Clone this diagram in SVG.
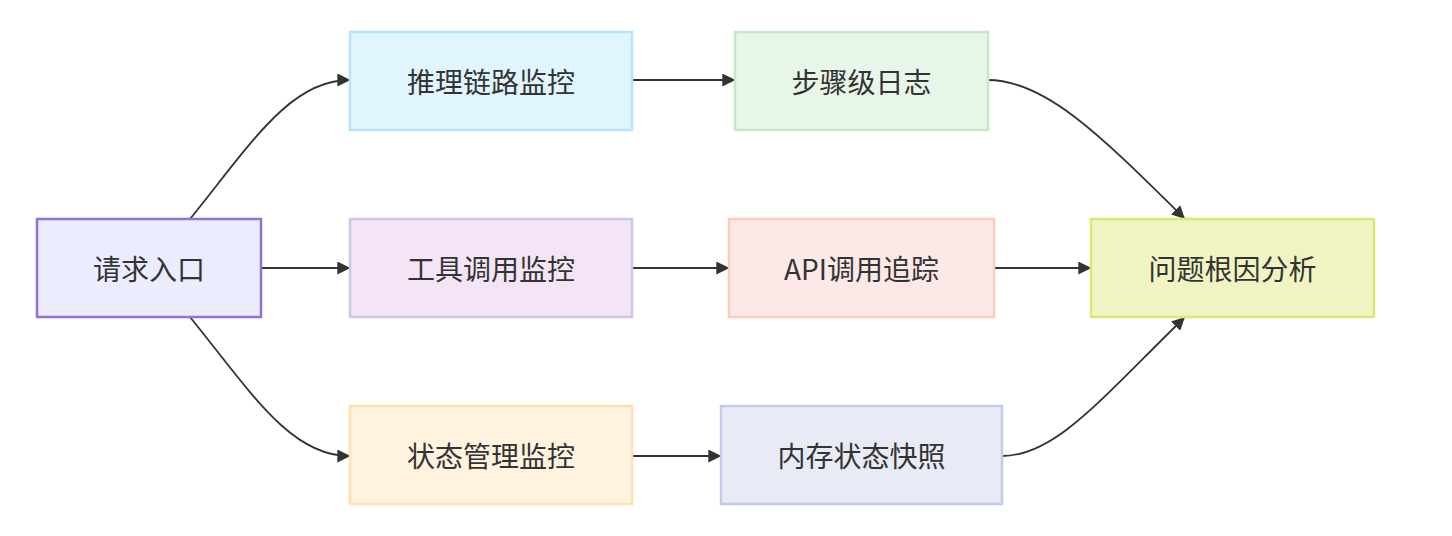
<svg xmlns="http://www.w3.org/2000/svg" width="1452" height="536" viewBox="0 0 1452 536">
<style>
.n rect{stroke-width:2.5}
.n text{font-family:"Noto Sans CJK SC","Noto Sans",sans-serif;font-size:28px;fill:#333;text-anchor:middle;dominant-baseline:central}
.e path{fill:none;stroke:#333;stroke-width:1.8;marker-end:url(#ah)}
</style>
<defs>
<marker id="ah" viewBox="0 0 10 10" refX="9" refY="5" markerWidth="13" markerHeight="13" markerUnits="userSpaceOnUse" orient="auto">
<path d="M0,0 L10,5 L0,10 z" fill="#333"/>
</marker>
</defs>
<rect width="1452" height="536" fill="#fff"/>
<g class="e">
<path d="M190,219 C250,145 290,80 349,80"/>
<path d="M261,268 L349,268"/>
<path d="M190,317 C250,391 290,456 349,456"/>
<path d="M632,80 L734,80"/>
<path d="M632,268 L728,268"/>
<path d="M632,456 L720,456"/>
<path d="M988,80 C1045,80 1100,135 1184,218"/>
<path d="M994,268 L1090,268"/>
<path d="M1002,456 C1055,456 1100,400 1184,318"/>
</g>
<g id="n1" class="n"><rect x="37" y="219" width="224" height="98" fill="#ECECFF" stroke="#9370DB"/><text x="149" y="268">请求入口</text></g>
<g id="n2" class="n"><rect x="350" y="32" width="282" height="98" fill="#E1F5FE" stroke="#B3E5FC"/><text x="491" y="81">推理链路监控</text></g>
<g id="n3" class="n"><rect x="350" y="219" width="282" height="98" fill="#F3E5F5" stroke="#D1C4E9"/><text x="491" y="268">工具调用监控</text></g>
<g id="n4" class="n"><rect x="350" y="406" width="282" height="98" fill="#FFF3E0" stroke="#FFE0B2"/><text x="491" y="455">状态管理监控</text></g>
<g id="n5" class="n"><rect x="735" y="32" width="253" height="98" fill="#E8F5E9" stroke="#C8E6C9"/><text x="861.5" y="81">步骤级日志</text></g>
<g id="n6" class="n"><rect x="729" y="219" width="265" height="98" fill="#FCE8E6" stroke="#FFCCBC"/><text x="861.5" y="268">API调用追踪</text></g>
<g id="n7" class="n"><rect x="721" y="406" width="281" height="98" fill="#E8EAF6" stroke="#C5CAE9"/><text x="861.5" y="455">内存状态快照</text></g>
<g id="n8" class="n"><rect x="1091" y="219" width="283" height="98" fill="#F0F4C3" stroke="#DCE775"/><text x="1232.5" y="268">问题根因分析</text></g>
</svg>
